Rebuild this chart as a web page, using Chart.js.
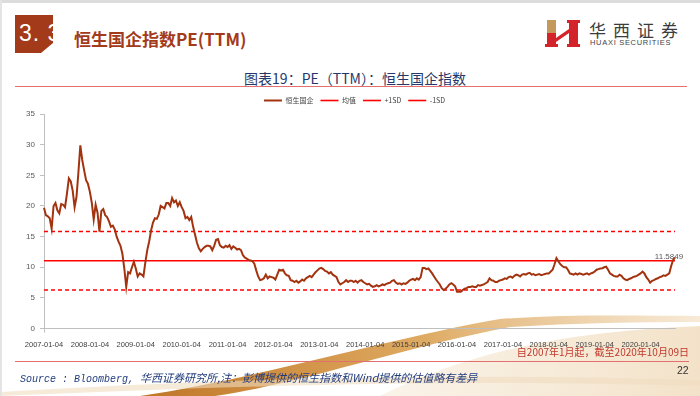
<!DOCTYPE html>
<html lang="zh-CN">
<head>
<meta charset="utf-8">
<title>恒生国企指数PE(TTM)</title>
<script src="https://cdn.jsdelivr.net/npm/chart.js@4.4.1/dist/chart.umd.min.js"></script>
<style>
  html, body { margin: 0; padding: 0; }
  body { width: 700px; height: 396px; position: relative; overflow: hidden; background: #fff;
         font-family: "Noto Sans CJK SC", "Noto Sans", sans-serif; }
  .abs { position: absolute; white-space: nowrap; }
  #frameTop { left: 0; top: 0; width: 700px; height: 3px; background: #dcdcdc; }
  #frameLeft { left: 0; top: 0; width: 2px; height: 396px; background: #e4e4e4; }
  #secNo { left: 19px; top: 22px; font: 23px/23px "Liberation Sans", Arial, sans-serif; color: #fff; letter-spacing: 1px; }
  #pageTitle { left: 74px; top: 30px; font-size: 17px; line-height: 17px; font-weight: 700; color: #A33A1A; }
  #brandCn { left: 589px; top: 20px; font-size: 17px; line-height: 19px; color: #3c3c3c; letter-spacing: 7px; }
  #brandEn { left: 590px; top: 39px; font: 7.5px/8px "Liberation Sans", Arial, sans-serif; color: #444; letter-spacing: 0.7px; }
  #chartTitle { left: 0; width: 710px; top: 71px; text-align: center; font-size: 14px; line-height: 15px; color: #26386B; }
  #titleRule { left: 15px; top: 86px; width: 672px; height: 1px; background: #E36F6F; }
  #chartBox { left: 0; top: 90px; width: 700px; height: 260px; }
  #dateNote { right: 11px; top: 346px; font-size: 10px; line-height: 12px; color: #C0392B; }
  #footRule { left: 15px; top: 361px; width: 674px; height: 1px; background: #E36F6F; }
  #pageNo { left: 677px; top: 364px; font: 10.5px/12px "Liberation Sans", Arial, sans-serif; color: #333; }
  #source { left: 20px; top: 370px; font-size: 11px; line-height: 14px; font-style: italic; color: #213C7C; }
  #source .latin { font-family: "Liberation Mono", monospace; font-size: 10px; }
</style>
</head>
<body>
<svg class="abs" style="left:0;top:0" width="700" height="396" viewBox="0 0 700 396">
  <defs>
    <linearGradient id="bandGrad" x1="0" y1="0" x2="1" y2="0">
      <stop offset="0" stop-color="#B8660E" stop-opacity="0.9"/>
      <stop offset="0.5" stop-color="#D89A45" stop-opacity="0.85"/>
      <stop offset="1" stop-color="#F2DCBC" stop-opacity="0.6"/>
    </linearGradient>
    <linearGradient id="washGrad" x1="0" y1="0" x2="1" y2="0">
      <stop offset="0" stop-color="#F3E2C8" stop-opacity="0.4"/>
      <stop offset="1" stop-color="#F1DDBF" stop-opacity="0.85"/>
    </linearGradient>
  </defs>
  <path d="M 380 396 C 470 352, 560 332, 700 326 L 700 396 Z" fill="url(#washGrad)"/>
  <path d="M 140 396 C 260 378, 390 338, 500 319 C 570 314, 640 316, 700 316 L 700 322 C 640 322, 575 323, 510 327 C 400 348, 300 384, 215 396 Z" fill="url(#bandGrad)"/>
  <path d="M 0 392 C 200 380, 420 372, 700 380 L 700 386 C 420 378, 200 388, 0 396 Z" fill="#F0DCC0" opacity="0.6"/>
  <polygon points="15,15 53,15 53,43 41,53 15,53" fill="#A33A1A"/>
  <rect x="547" y="20" width="9" height="13" fill="#C49A5C"/>
  <path d="M547 33 H556 V44 H558 V47 H545 V44 H547 Z" fill="#D3242B"/>
  <path d="M556 38 L569 29 V33 L556 42 Z" fill="#D3242B"/>
  <path d="M567 20 H580 V23 H578 V44 H580 V47 H567 V44 H569 V23 H567 Z" fill="#D3242B"/>
</svg>
<div class="abs" id="frameTop"></div>
<div class="abs" id="frameLeft"></div>
<div class="abs" id="secNo">3. 3</div>
<div class="abs" id="pageTitle">恒生国企指数PE(TTM)</div>
<div class="abs" id="brandCn">华西证券</div>
<div class="abs" id="brandEn">HUAXI SECURITIES</div>
<div class="abs" id="chartTitle">图表19：PE（TTM）：恒生国企指数</div>
<div class="abs" id="titleRule"></div>
<div class="abs" id="chartBox"><canvas id="peChart"></canvas></div>
<div class="abs" id="dateNote">自2007年1月起，截至2020年10月09日</div>
<div class="abs" id="footRule"></div>
<div class="abs" id="pageNo">22</div>
<div class="abs" id="source"><span class="latin">Source : Bloomberg, </span>华西证券研究所,注：彭博提供的恒生指数和Wind提供的估值略有差异</div>

<script>
// semi-monthly sampling
var years = ['2007', '2008', '2009', '2010', '2011', '2012', '2013', '2014', '2015', '2016', '2017', '2018', '2019', '2020'];
var months = ['01', '02', '03', '04', '05', '06', '07', '08', '09', '10', '11', '12'];
var days = ['04', '18'];

var pe2007 = [19.7, 18.5, 18.3, 18.0, 16.3, 20.0, 20.5, 19.3, 18.8, 20.3, 20.2, 19.8, 22.0, 24.5, 24.0, 22.5, 19.8, 21.5, 25.5, 29.9, 27.5, 25.8, 24.2, 23.6];
var pe2008 = [22.3, 20.5, 17.8, 20.2, 18.9, 15.8, 19.2, 19.5, 18.5, 18.2, 17.5, 16.6, 16.8, 16.2, 15.0, 14.2, 13.5, 12.2, 9.8, 6.8, 9.2, 9.0, 10.0, 10.9];
var pe2009 = [9.8, 8.5, 9.0, 8.8, 8.5, 10.8, 12.8, 14.2, 16.0, 17.3, 18.0, 17.9, 18.6, 20.0, 19.8, 19.6, 20.5, 20.5, 20.0, 21.3, 20.6, 20.9, 20.0, 20.6];
var pe2010 = [19.8, 19.2, 18.0, 18.2, 17.7, 18.2, 16.6, 15.3, 14.0, 13.1, 12.6, 13.0, 13.3, 13.5, 13.5, 13.4, 12.8, 13.5, 14.5, 14.6, 13.6, 13.3, 13.2, 13.5];
var pe2011 = [13.3, 13.6, 13.0, 13.4, 13.2, 12.9, 13.0, 12.8, 12.0, 11.6, 11.4, 11.2, 11.1, 11.0, 10.6, 9.5, 8.5, 7.9, 8.0, 8.2, 8.8, 8.2, 8.5, 8.4];
var pe2012 = [8.3, 8.0, 8.8, 9.6, 9.5, 9.6, 9.0, 8.7, 8.6, 7.9, 7.8, 7.6, 7.8, 7.5, 7.7, 8.0, 7.8, 8.2, 8.4, 8.6, 8.4, 8.8, 9.2, 9.5];
var pe2013 = [9.8, 9.9, 9.7, 9.4, 9.3, 9.0, 9.2, 8.8, 8.6, 8.4, 7.6, 7.2, 7.4, 7.6, 7.9, 7.6, 7.8, 7.8, 7.6, 7.8, 7.5, 7.8, 7.9, 7.6];
var pe2014 = [7.4, 7.2, 7.3, 7.0, 6.8, 6.9, 7.1, 6.9, 7.0, 7.2, 7.1, 7.3, 7.4, 7.5, 7.8, 7.9, 7.5, 7.3, 7.4, 7.2, 7.4, 7.3, 7.5, 7.8];
var pe2015 = [8.0, 8.1, 7.9, 8.2, 8.0, 8.4, 9.9, 9.9, 9.7, 9.8, 9.4, 9.0, 8.5, 8.0, 7.6, 7.2, 6.6, 6.3, 6.5, 6.8, 7.2, 7.4, 7.2, 6.9];
var pe2016 = [6.0, 6.0, 6.0, 6.3, 6.5, 6.6, 6.8, 6.8, 6.9, 6.8, 6.8, 7.1, 7.0, 7.1, 7.2, 7.4, 7.6, 8.2, 7.9, 7.8, 7.6, 7.6, 7.8, 7.9];
var pe2017 = [8.0, 8.2, 8.1, 8.4, 8.5, 8.3, 8.6, 8.8, 8.7, 8.5, 8.8, 8.9, 8.8, 9.0, 9.1, 8.8, 8.9, 8.7, 8.8, 8.9, 8.7, 8.8, 8.9, 9.0];
var pe2018 = [9.0, 9.3, 9.6, 10.5, 11.5, 11.0, 10.5, 10.2, 10.0, 10.0, 9.6, 9.0, 8.9, 8.8, 9.0, 8.8, 9.0, 8.9, 8.8, 8.9, 9.0, 8.8, 9.0, 9.1];
var pe2019 = [9.3, 9.6, 9.7, 9.8, 9.85, 10.0, 10.1, 9.6, 9.0, 8.8, 8.6, 8.5, 8.5, 8.8, 8.6, 8.2, 8.0, 7.9, 8.1, 8.2, 8.4, 8.5, 8.6, 8.8];
var pe2020 = [9.0, 9.3, 9.0, 8.4, 8.0, 7.5, 7.8, 7.9, 8.1, 8.2, 8.4, 8.5, 8.7, 8.6, 8.8, 9.0, 10.2, 11.2, 11.5849];

var avgPE = 11.06;
var plusOneSD = 15.84;
var minusOneSD = 6.29;

var peValues = [].concat(pe2007, pe2008, pe2009, pe2010, pe2011, pe2012, pe2013,
                         pe2014, pe2015, pe2016, pe2017, pe2018, pe2019, pe2020);

var dateLabels = [];
years.forEach(function (y) {
  months.forEach(function (m) {
    days.forEach(function (d) { dateLabels.push(y + '-' + m + '-' + d); });
  });
});
dateLabels = dateLabels.slice(0, peValues.length);

function flatLine(v) {
  return [{ x: dateLabels[0], y: v }, { x: dateLabels[dateLabels.length - 1], y: v }];
}
function isYearTick(i) {
  return dateLabels[i] && dateLabels[i].slice(5) === '01-04';
}

var tickFont = '"Liberation Sans", Arial, sans-serif';

// value label at the last point
var endLabel = {
  id: 'endLabel',
  afterDatasetsDraw: function (chart) {
    var pts = chart.getDatasetMeta(0).data;
    var p = pts[pts.length - 1];
    var ctx = chart.ctx;
    ctx.save();
    ctx.font = '8px ' + tickFont;
    ctx.fillStyle = '#595959';
    ctx.textAlign = 'center';
    ctx.textBaseline = 'middle';
    ctx.fillText(peValues[peValues.length - 1].toFixed(4), p.x - 6, p.y - 1);
    ctx.restore();
  }
};

var ctx = document.getElementById('peChart').getContext('2d');
var peChart = new Chart(ctx, {
  type: 'line',
  data: {
    labels: dateLabels,
    datasets: [{
      label: '恒生国企',
      data: peValues,
      borderColor: '#A3330F',
      backgroundColor: '#A3330F',
      borderWidth: 2,
      pointRadius: 0,
      tension: 0
    }, {
      label: '均值',
      data: flatLine(avgPE),
      borderColor: '#FF0000',
      backgroundColor: '#FF0000',
      borderWidth: 1.6,
      pointRadius: 0
    }, {
      label: '+1SD',
      data: flatLine(plusOneSD),
      borderColor: '#FF0000',
      backgroundColor: '#FF0000',
      borderWidth: 1.6,
      borderDash: [4, 3],
      pointRadius: 0
    }, {
      label: '-1SD',
      data: flatLine(minusOneSD),
      borderColor: '#FF0000',
      backgroundColor: '#FF0000',
      borderWidth: 1.6,
      borderDash: [4, 3],
      pointRadius: 0
    }]
  },
  options: {
    responsive: true,
    maintainAspectRatio: false,
    animation: false,
    layout: { padding: { left: 9, right: 0, top: 0, bottom: 0 } },
    plugins: {
      legend: {
        position: 'top',
        labels: {
          usePointStyle: true,
          pointStyle: 'line',
          pointStyleWidth: 18,
          boxHeight: 7,
          padding: 7,
          color: '#404040',
          font: { size: 7, family: '"Noto Sans CJK SC", sans-serif' }
        }
      },
      tooltip: { enabled: false }
    },
    scales: {
      x: {
        grid: {
          drawOnChartArea: false,
          tickLength: 4,
          color: function (c) { return isYearTick(c.index) ? '#BFBFBF' : 'rgba(0,0,0,0)'; }
        },
        border: { color: '#BFBFBF' },
        ticks: {
          autoSkip: false,
          maxRotation: 0,
          minRotation: 0,
          padding: 8,
          color: '#404040',
          font: { size: 7.5, family: tickFont },
          callback: function (val, i) { return isYearTick(i) ? dateLabels[i] : null; }
        },
        afterFit: function (s) { s.height = 21.4; s.paddingLeft = 0; s.paddingRight = 25; }
      },
      y: {
        min: 0,
        max: 35,
        ticks: { stepSize: 5, padding: 5, color: '#595959', font: { size: 8, family: tickFont } },
        grid: { drawOnChartArea: false, tickLength: 4, color: '#BFBFBF' },
        border: { color: '#BFBFBF' },
        afterFit: function (s) { s.width = 35; }
      }
    }
  },
  plugins: [endLabel]
});
</script>
</body>
</html>
